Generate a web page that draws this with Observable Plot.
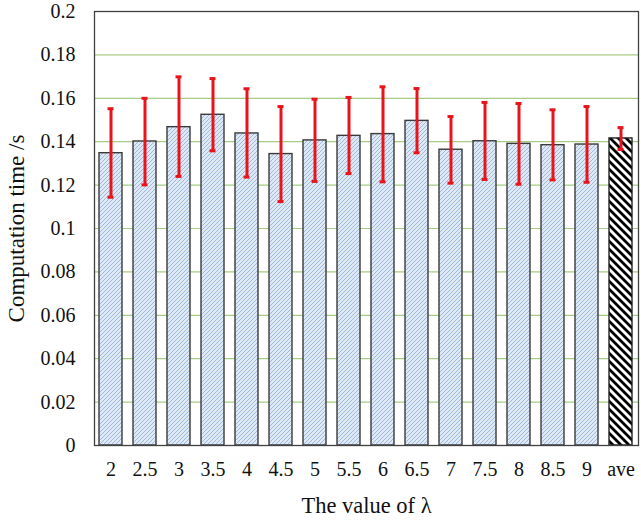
<!DOCTYPE html>
<html>
<head>
<meta charset="utf-8">
<script src="https://cdn.jsdelivr.net/npm/d3@7"></script>
<script src="https://cdn.jsdelivr.net/npm/@observablehq/plot@0.6"></script>
<style>
  html, body { margin: 0; padding: 0; background: #fff; }
  #chart { width: 641px; height: 521px; }
</style>
</head>
<body>
<div id="chart"></div>
<script>
const lambdas = ["2","2.5","3","3.5","4","4.5","5","5.5","6","6.5","7","7.5","8","8.5","9","ave"];
const means   = [0.1347,0.1401,0.1467,0.1524,0.1438,0.1343,0.1406,0.1427,0.1435,0.1496,0.1363,0.1402,0.1390,0.1384,0.1387,0.1415];
const errLow  = [0.1144,0.1201,0.1240,0.1358,0.1237,0.1124,0.1217,0.1253,0.1215,0.1349,0.1209,0.1226,0.1204,0.1224,0.1213,0.1364];
const errHigh = [0.1552,0.1600,0.1699,0.1691,0.1644,0.1562,0.1596,0.1604,0.1653,0.1645,0.1516,0.1581,0.1576,0.1547,0.1562,0.1465];
const yTicks  = [0,0.02,0.04,0.06,0.08,0.1,0.12,0.14,0.16,0.18,0.2];

const data = lambdas.map((l, i) => ({lambda: l, mean: means[i], lo: errLow[i], hi: errHigh[i]}));
const regular = data.filter(d => d.lambda !== "ave");
const average = data.filter(d => d.lambda === "ave");

const chart = Plot.plot({
  width: 641,
  height: 521,
  marginLeft: 94,
  marginRight: 3,
  marginTop: 11,
  marginBottom: 76,
  style: {fontFamily: "'Liberation Serif', 'Times New Roman', serif", fontSize: "20px", color: "#111", background: "#fff"},
  x: {domain: lambdas, paddingInner: 0.31, paddingOuter: 0.155, label: null},
  y: {domain: [0, 0.2], label: null},
  marks: [
    Plot.gridY(yTicks.filter(t => t > 0 && t < 0.2), {stroke: "#a6cc84", strokeOpacity: 1, strokeWidth: 1.2}),
    Plot.barY(regular, {x: "lambda", y: "mean", fill: "url(#hatchBlue)", stroke: "#3a3a3a", strokeWidth: 1.4}),
    Plot.barY(average, {x: "lambda", y: "mean", fill: "url(#hatchAve)", stroke: "#222", strokeWidth: 1.4}),
    Plot.ruleX(data, {x: "lambda", y1: "lo", y2: "hi", stroke: "#e8141b", strokeWidth: 3}),
    Plot.tickY(data, {x: "lambda", y: "hi", stroke: "#e8141b", strokeWidth: 3, insetLeft: 8.5, insetRight: 8.5}),
    Plot.tickY(data, {x: "lambda", y: "lo", stroke: "#e8141b", strokeWidth: 3, insetLeft: 8.5, insetRight: 8.5}),
    Plot.frame({stroke: "#404040", strokeWidth: 1.3}),
    Plot.axisY(yTicks, {tickSize: 0, tickPadding: 19, tickFormat: d => String(+d.toFixed(2)), label: null, fontSize: 20}),
    Plot.axisX({tickSize: 0, tickPadding: 16, label: null, fontSize: 20}),
    Plot.text(["Computation time /s"], {frameAnchor: "left", dx: -78, rotate: -90, textAnchor: "middle", lineAnchor: "middle", fontSize: 23, fill: "#111"}),
    Plot.text(["The value of λ"], {frameAnchor: "bottom", dy: 60, textAnchor: "middle", lineAnchor: "middle", fontSize: 22.5, fill: "#111"})
  ]
});

const svg = d3.select(chart);
const defs = svg.insert("defs", ":first-child");
const pb = defs.append("pattern")
  .attr("id", "hatchBlue").attr("patternUnits", "userSpaceOnUse")
  .attr("width", 4).attr("height", 4);
pb.append("rect").attr("width", 4).attr("height", 4).attr("fill", "#dfe9f5");
pb.append("path").attr("d", "M-1,1 l2,-2 M0,4 l4,-4 M3,5 l2,-2")
  .attr("stroke", "#93b0d6").attr("stroke-width", 0.85);
const pa = defs.append("pattern")
  .attr("id", "hatchAve").attr("patternUnits", "userSpaceOnUse")
  .attr("width", 8).attr("height", 8);
pa.append("rect").attr("width", 8).attr("height", 8).attr("fill", "#fff");
pa.append("path").attr("d", "M-2,6 l4,4 M0,0 l8,8 M6,-2 l4,4")
  .attr("stroke", "#000").attr("stroke-width", 2.8);

document.getElementById("chart").appendChild(chart);
</script>
</body>
</html>
